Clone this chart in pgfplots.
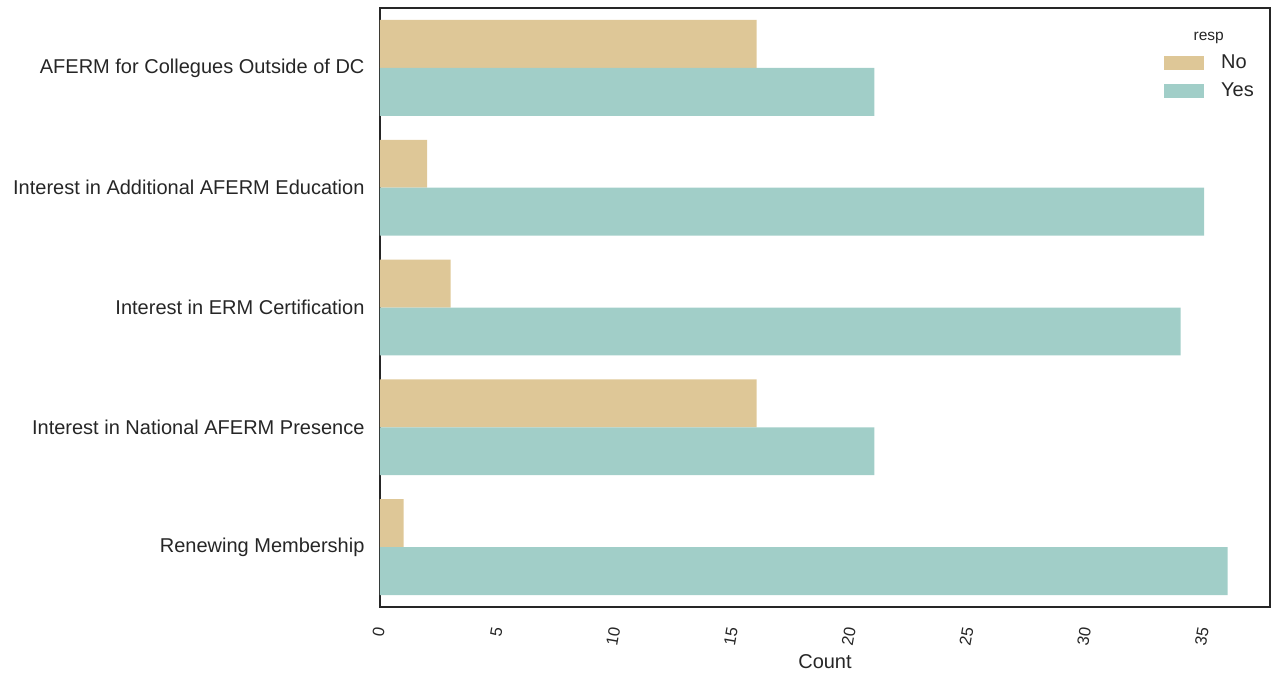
\documentclass[border=0pt]{standalone}
\usepackage{pgfplots}
\pgfplotsset{compat=1.18}
\usepackage{fontspec}
\setmainfont{Liberation Sans}
\definecolor{cNo}{HTML}{DEC797}
\definecolor{cYes}{HTML}{A1CEC8}
\definecolor{axc}{HTML}{262626}
\begin{document}
\begin{tikzpicture}[font=\fontsize{19.5pt}{22pt}\selectfont]
\begin{axis}[
  scale only axis, width=890pt, height=599pt,
  xmin=0, xmax=37.8, ymin=-0.5, ymax=4.5, y dir=reverse,
  xbar, bar width=0.4,
  ytick={0,1,2,3,4},
  yticklabels={AFERM for Collegues Outside of DC, Interest in Additional AFERM Education, Interest in ERM Certification, Interest in National AFERM Presence, Renewing Membership},
  xtick={0,5,...,35},
  /pgf/number format/assume math mode=true,
  major tick length=0pt,
  axis line style={axc, line width=1.25pt},
  tick label style={text=axc},
  yticklabel style={font=\fontsize{20pt}{22pt}\selectfont, xshift=-12pt},
  xticklabel style={font=\fontsize{16.5pt}{18pt}\selectfont, yshift=-17pt, rotate=80, anchor=east},
  xlabel={Count},
  xlabel style={text=axc, font=\fontsize{20pt}{22pt}\selectfont, at={(axis description cs:0.5,0)}, anchor=center, yshift=-55pt},
  legend style={draw=none, fill=none, at={(0.9843,0.923)}, anchor=north east, font=\fontsize{20pt}{22pt}\selectfont, text=axc, row sep=10pt, inner sep=0pt, nodes={inner ysep=0pt, text height=14pt, text depth=4pt}},
  legend cell align=left,
  legend image code/.code={\fill[#1] (0pt,-7pt) rectangle (40pt,7pt); \path (55pt,0pt);},
  clip=false,
]
\addplot[fill=cNo, draw=none, bar shift=-0.2] coordinates {(16,0) (2,1) (3,2) (16,3) (1,4)};
\addplot[fill=cYes, draw=none, bar shift=0.2] coordinates {(21,0) (35,1) (34,2) (21,3) (36,4)};
\legend{No, Yes}
\node[text=axc, font=\fontsize{15.5pt}{18pt}\selectfont] at (axis cs:35.2,-0.25) {resp};
\end{axis}
\path ([shift={(-380pt,-68pt)}]current axis.south west) rectangle ([shift={(3pt,8pt)}]current axis.north east);
\end{tikzpicture}
\end{document}
